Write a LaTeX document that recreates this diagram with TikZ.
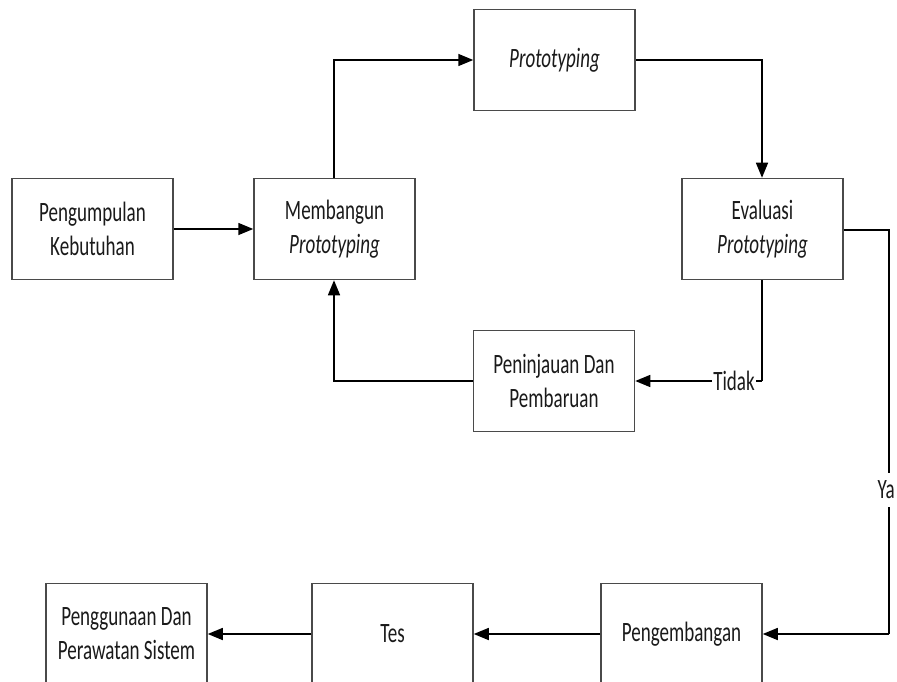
\documentclass[tikz,border=0pt]{standalone}
\usepackage{fontspec}
\setmainfont{Carlito}[FakeStretch=0.68]
\usetikzlibrary{arrows.meta}
\definecolor{boxline}{HTML}{4A4A4A}
\definecolor{inktext}{HTML}{1A1A1A}
\begin{document}
\begin{tikzpicture}[x=1pt,y=-1pt,
  stage/.style={draw=boxline, line width=1.5pt, fill=white, minimum width=161pt,
    minimum height=101pt, inner sep=0pt, align=center, text=inktext,
    font=\fontsize{28}{34}\selectfont},
  flow/.style={draw=black, line width=1.5pt, -{Triangle[length=15pt,width=12pt]}},
  plain/.style={draw=black, line width=1.5pt},
  tag/.style={fill=white, inner sep=1pt, text=inktext, font=\fontsize{28}{34}\selectfont}]
\useasboundingbox (0,0) rectangle (897,682);
\clip (0,0) rectangle (897,682);
\fill[white] (0,0) rectangle (897,682);

% process stages
\node[stage] (kumpul) at (92.5,229) {Pengumpulan\\Kebutuhan};
\node[stage] (bangun) at (334.5,229) {Membangun\\\textit{Prototyping}};
\node[stage] (proto)  at (554.5,60)  {\textit{Prototyping}};
\node[stage] (eval)   at (762.5,229) {Evaluasi\\\textit{Prototyping}};
\node[stage] (tinjau) at (554,381)   {Peninjauan Dan\\Pembaruan};
\node[stage] (kembang) at (681.5,634)  {Pengembangan};
\node[stage] (tes)    at (392.5,634)   {Tes};
\node[stage] (guna)   at (126.5,634)   {Penggunaan Dan\\Perawatan Sistem};

% corner points of the routed connectors
\coordinate (c1) at (334,60);
\coordinate (c2) at (762,60);
\coordinate (c3) at (889,230);
\coordinate (c4) at (889,634);
\coordinate (c5) at (762,381);
\coordinate (c6) at (334,381);

% connectors
\draw[flow] (kumpul.east) -- (bangun.west);
\draw[flow] (bangun.north -| c1) -- (c1) -- (proto.west |- c1);
\draw[flow] (proto.east |- c2) -- (c2) -- (eval.north -| c2);
\draw[plain] (eval.east |- c3) -- (c3) -- (c4);
\draw[flow] (c4) -- (kembang.east |- c4);
\draw[plain] (eval.south -| c5) -- (c5);
\draw[flow] (c5) -- (tinjau.east |- c5);
\draw[flow] (tinjau.west |- c6) -- (c6) -- (bangun.south -| c6);
\draw[flow] (kembang.west) -- (tes.east);
\draw[flow] (tes.west) -- (guna.east);

% branch labels
\node[tag] (tidak) at (734,381) {Tidak};
\node[tag, inner ysep=8pt, anchor=east] (ya) at (896,490) {Ya};
\end{tikzpicture}
\end{document}
